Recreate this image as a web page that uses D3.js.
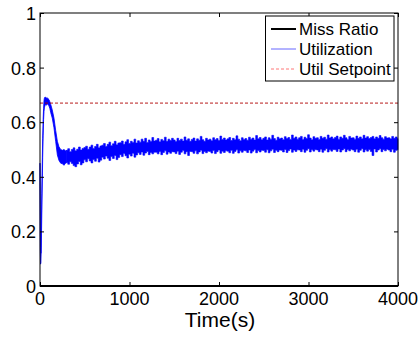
<!DOCTYPE html>
<html><head><meta charset="utf-8">
<script src="https://cdn.jsdelivr.net/npm/d3@7"></script>
<style>body{margin:0;background:#fff}svg{display:block}text{font-family:"Liberation Sans",Arial,Helvetica,sans-serif;fill:#000}</style>
</head><body><svg id="c" width="419" height="337"></svg>
<script>
// ---- data ----
const xTicks = [0, 1000, 2000, 3000, 4000];
const yTicks = [0, 0.2, 0.4, 0.6, 0.8, 1];
const yTickLabels = ["0", "0.2", "0.4", "0.6", "0.8", "1"];
const legendLabels = ["Miss Ratio", "Utilization", "Util Setpoint"];
const setpoint = 0.67;
const missT = [0, 4000];
const missV = [0, 0];
// Utilization, start-up transient (min/max envelope per sample time)
const earlyT  = [0, 3, 6, 10, 15, 20, 25, 30, 35, 40, 45, 50, 60, 70, 80, 90, 100, 110, 120, 137, 156, 175, 194, 212, 231, 250, 268, 285];
const earlyHi = [0.45, 0.30, 0.14, 0.12, 0.22, 0.34, 0.45, 0.54, 0.61, 0.65, 0.68, 0.69, 0.692, 0.688, 0.69, 0.686, 0.683, 0.675, 0.665, 0.645, 0.615, 0.57, 0.53, 0.51, 0.50, 0.497, 0.50, 0.495];
const earlyLo = [0.40, 0.14, 0.08, 0.085, 0.15, 0.26, 0.37, 0.47, 0.55, 0.61, 0.64, 0.655, 0.665, 0.662, 0.668, 0.664, 0.66, 0.65, 0.635, 0.615, 0.58, 0.53, 0.48, 0.46, 0.45, 0.448, 0.442, 0.45];
// Utilization, steady part: min/max per 20 s bin from 300 s to 4000 s
const bandStart = 300, bandStep = 20;
const bandHi = [
.497,.503,.492,.500,.506,.495,.501,.509,.498,.504,
.507,.512,.501,.509,.516,.504,.511,.519,.506,.513,
.516,.522,.511,.519,.527,.514,.521,.530,.517,.524,
.525,.531,.519,.528,.536,.522,.530,.526,.538,.524,
.532,.527,.538,.530,.541,.526,.535,.529,.544,.531,
.534,.540,.528,.537,.532,.545,.530,.538,.533,.541,
.535,.529,.541,.533,.538,.531,.546,.534,.539,.530,
.537,.542,.531,.539,.534,.548,.536,.530,.541,.535,
.538,.532,.543,.536,.540,.533,.549,.537,.542,.535,
.539,.544,.533,.541,.536,.550,.538,.532,.543,.537,
.540,.534,.545,.538,.542,.535,.551,.539,.544,.536,
.541,.546,.535,.543,.538,.552,.540,.534,.545,.539,
.542,.536,.547,.540,.544,.537,.553,.541,.546,.538,
.543,.548,.537,.545,.540,.554,.542,.536,.547,.541,
.543,.537,.548,.541,.545,.538,.553,.542,.546,.539,
.544,.549,.538,.546,.541,.552,.543,.537,.548,.542,
.543,.538,.549,.541,.546,.539,.552,.542,.547,.540,
.544,.548,.539,.546,.541,.551,.543,.538,.547,.542,
.543,.539,.548,.541,.546,.540];
const bandLo = [
.452,.446,.455,.449,.441,.437,.447,.456,.444,.451,
.462,.455,.466,.458,.451,.463,.457,.468,.454,.461,
.472,.465,.476,.468,.460,.474,.467,.478,.463,.471,
.481,.474,.485,.477,.469,.483,.476,.486,.472,.480,
.488,.482,.491,.479,.487,.493,.481,.489,.484,.490,
.490,.484,.493,.481,.489,.495,.483,.491,.486,.492,
.491,.485,.494,.482,.490,.496,.484,.492,.478,.493,
.492,.486,.495,.484,.491,.497,.485,.493,.488,.494,
.493,.487,.496,.485,.492,.498,.486,.494,.489,.495,
.494,.488,.497,.486,.493,.499,.487,.495,.490,.496,
.495,.489,.498,.487,.494,.500,.488,.496,.491,.497,
.496,.490,.499,.488,.495,.501,.489,.497,.492,.498,
.497,.491,.500,.489,.496,.502,.490,.498,.493,.499,
.498,.492,.501,.490,.497,.503,.491,.499,.494,.500,
.498,.492,.501,.490,.497,.503,.491,.499,.494,.500,
.499,.493,.502,.491,.498,.503,.492,.500,.495,.501,
.498,.492,.501,.490,.497,.503,.491,.499,.494,.500,
.493,.478,.502,.491,.498,.503,.492,.500,.495,.501,
.498,.492,.501,.490,.497,.499];

// ---- build ----
const early = earlyT.map((t, i) => ({t, hi: earlyHi[i], lo: earlyLo[i]}));
const band = bandHi.map((h, i) => ({t: bandStart + i * bandStep, hi: h, lo: bandLo[i]}));

const svg = d3.select("#c");
const L = 40, R = 398, T = 13, B = 286;
const x = d3.scaleLinear().domain([0, 4000]).range([L, R]);
const y = d3.scaleLinear().domain([0, 1]).range([B, T]);

// utilization: transient (smooth) + steady noisy band (stepped min/max)
svg.append("path").datum(early.concat([band[0]]))
  .attr("d", d3.area().x(d => x(d.t)).y0(d => y(d.lo)).y1(d => y(d.hi)))
  .attr("fill", "#0000ff").attr("stroke", "#0000ff").attr("stroke-width", 0.8);
svg.append("path").datum(band)
  .attr("d", d3.area().curve(d3.curveStep).x(d => x(d.t)).y0(d => y(d.lo)).y1(d => y(d.hi)))
  .attr("fill", "#0000ff").attr("stroke", "#0000ff").attr("stroke-width", 0.6);

// setpoint
svg.append("path").datum([0, 4000])
  .attr("d", d3.line().x(d => x(d)).y(() => y(setpoint)))
  .attr("stroke", "#b00000").attr("stroke-width", 0.9).attr("stroke-dasharray", "3,2").attr("fill", "none");

// miss ratio
svg.append("path").datum(missT.map((t, i) => ({t, v: missV[i]})))
  .attr("d", d3.line().x(d => x(d.t)).y(d => y(d.v)))
  .attr("stroke", "#000").attr("stroke-width", 2).attr("fill", "none");

// axes (box with inward ticks)
const fs = "18px";
const ax = (g, axis) => { g.call(axis); g.select(".domain").remove(); g.selectAll("line").attr("stroke", "#000"); g.selectAll("text").remove(); };
svg.append("g").attr("transform", `translate(0,${B})`).call(g => ax(g, d3.axisBottom(x).tickValues(xTicks).tickSizeInner(-4).tickSizeOuter(0)));
svg.append("g").attr("transform", `translate(0,${T})`).call(g => ax(g, d3.axisTop(x).tickValues(xTicks).tickSizeInner(-4).tickSizeOuter(0)));
svg.append("g").attr("transform", `translate(${L},0)`).call(g => ax(g, d3.axisLeft(y).tickValues(yTicks).tickSizeInner(-4).tickSizeOuter(0)));
svg.append("g").attr("transform", `translate(${R},0)`).call(g => ax(g, d3.axisRight(y).tickValues(yTicks).tickSizeInner(-4).tickSizeOuter(0)));
svg.append("rect").attr("x", L).attr("y", T).attr("width", R - L).attr("height", B - T)
  .attr("fill", "none").attr("stroke", "#000").attr("stroke-width", 1);

svg.selectAll(".xl").data(xTicks).join("text").attr("class", "xl")
  .attr("x", d => x(d)).attr("y", 305).attr("text-anchor", "middle").style("font-size", fs).text(d => d);
svg.selectAll(".yl").data(yTicks).join("text").attr("class", "yl")
  .attr("x", 36).attr("y", d => y(d) + 7).attr("text-anchor", "end").style("font-size", fs).text((d, i) => yTickLabels[i]);
svg.append("text").attr("x", 220).attr("y", 327).attr("text-anchor", "middle").style("font-size", "21px").text("Time(s)");

// legend
const lg = svg.append("g");
lg.append("rect").attr("x", 265.5).attr("y", 16).attr("width", 128.5).attr("height", 65)
  .attr("fill", "#fff").attr("stroke", "#000").attr("stroke-width", 1);
const lstyles = [
  {c: "#000", w: 2, d: null},
  {c: "#6666ff", w: 1, d: null},
  {c: "#ff7777", w: 1, d: "3,2"}
];
legendLabels.forEach((lab, i) => {
  const yy = 29 + i * 20;
  lg.append("line").attr("x1", 271).attr("x2", 296).attr("y1", yy).attr("y2", yy)
    .attr("stroke", lstyles[i].c).attr("stroke-width", lstyles[i].w).attr("stroke-dasharray", lstyles[i].d);
  lg.append("text").attr("x", 299).attr("y", yy + 6).style("font-size", "17px").text(lab);
});
</script></body></html>
